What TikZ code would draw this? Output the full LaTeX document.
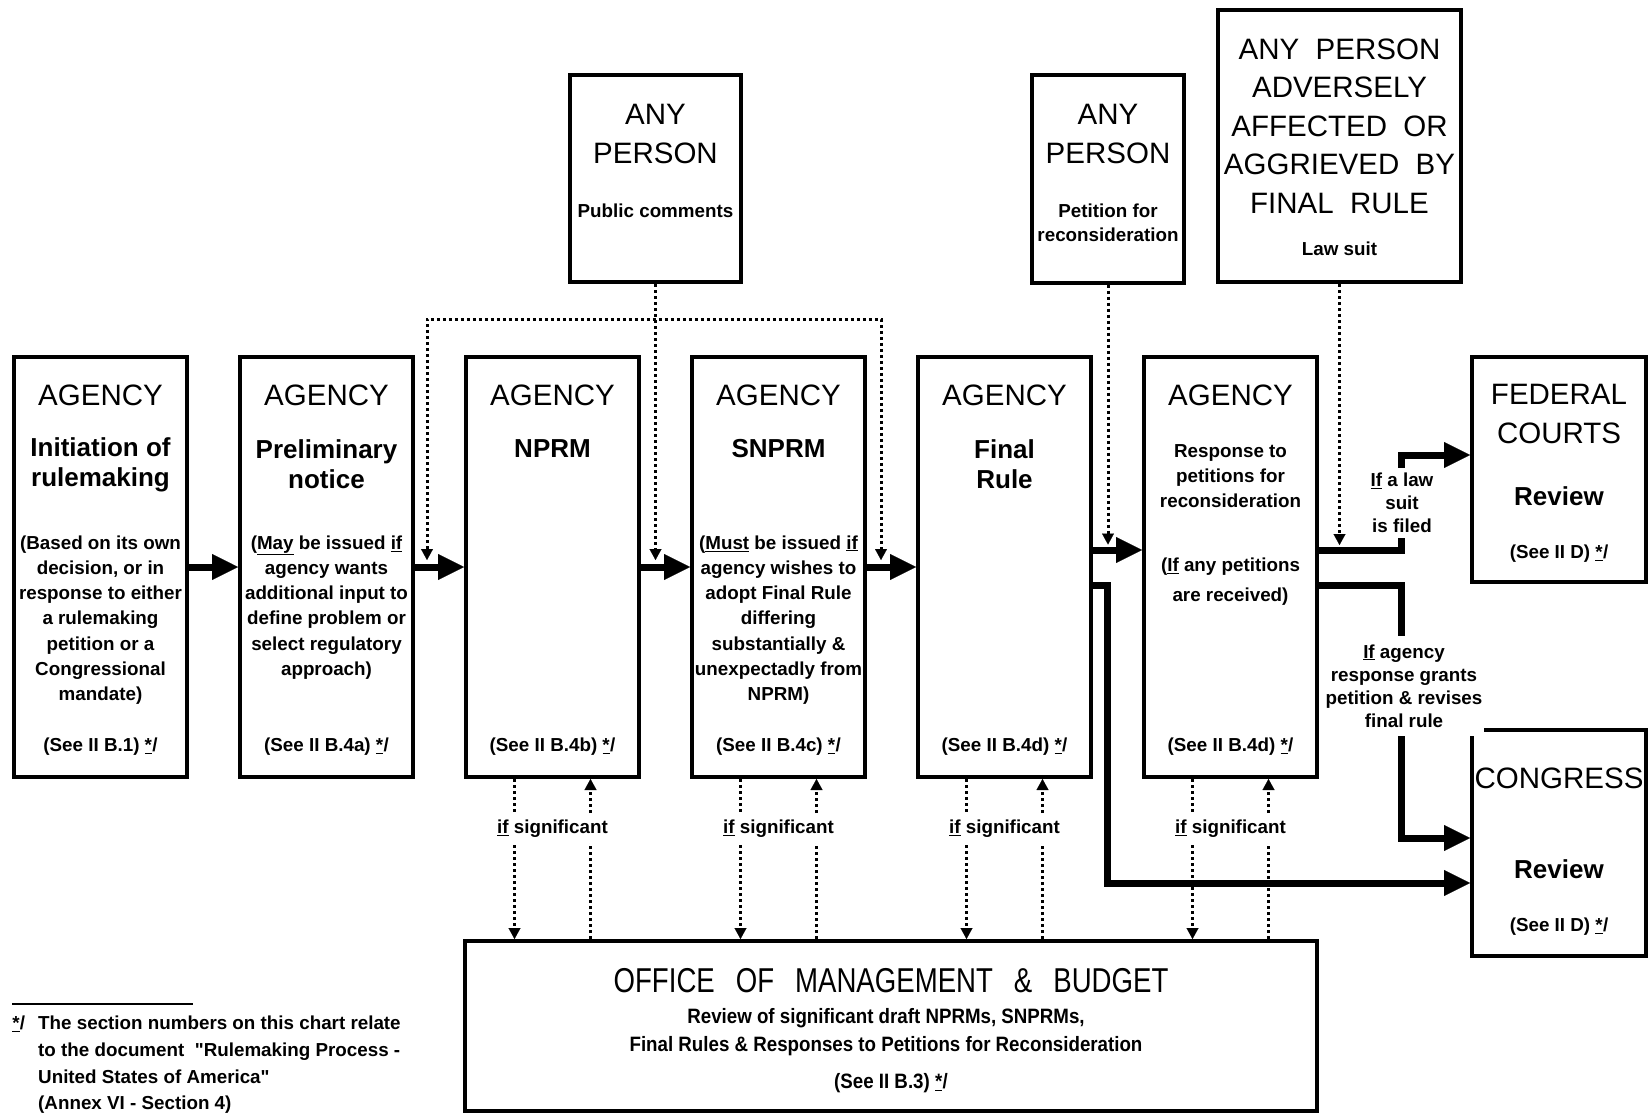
\documentclass[tikz,border=0pt]{standalone}
\usepackage{fontspec}
\setmainfont{Liberation Sans}
\newfontfamily\titlefont[FakeStretch=0.8]{Liberation Sans}
\newfontfamily\ombfont[FakeStretch=0.9]{Liberation Sans}
\newfontfamily\fnfont[Ligatures=TeXOff]{Liberation Sans}
\usetikzlibrary{arrows.meta,calc}
\newcommand{\fnm}{\underline{*}\kern0.3pt/}
\begin{document}
\begin{tikzpicture}[x=1pt,y=-1pt,
  abox/.style={draw, line width=4pt, inner sep=0pt},
  hd/.style={font=\fontsize{29.5}{38.5}\selectfont, align=center, inner sep=0pt},
  sub/.style={font=\bfseries\fontsize{26}{30}\selectfont, align=center, inner sep=0pt},
  body/.style={font=\bfseries\fontsize{18.8}{25.2}\selectfont, align=center, inner sep=0pt},
  lbl/.style={font=\bfseries\fontsize{18.8}{23}\selectfont, align=center, fill=white, inner xsep=2pt, inner ysep=5pt},
  flow/.style={line width=7pt, -{Triangle[length=26pt,width=26pt,line width=0.1pt]}},
  dots/.style={line width=3pt, dash pattern=on 3pt off 3pt},
  dotarr/.style={dots, -{Triangle[length=11pt,width=12pt,line width=0.1pt]}},
  dotboth/.style={dots, {Triangle[length=11pt,width=12pt,line width=0.1pt]}-{Triangle[length=11pt,width=12pt,line width=0.1pt]}}
]
\fill[white] (0,0) rectangle (1648,1115);
\useasboundingbox (0,0) rectangle (1648,1115);

% ---------- agency boxes ----------
\node[abox, minimum width=173pt, minimum height=420pt] (b1) at (100.5,567) {};
\node[abox, minimum width=173pt, minimum height=420pt] (b2) at (326.5,567) {};
\node[abox, minimum width=173pt, minimum height=420pt] (b3) at (552.5,567) {};
\node[abox, minimum width=173pt, minimum height=420pt] (b4) at (778.5,567) {};
\node[abox, minimum width=173pt, minimum height=420pt] (b5) at (1004.5,567) {};
\node[abox, minimum width=173pt, minimum height=420pt] (b6) at (1230.5,567) {};

% top boxes
\node[abox, minimum width=171pt, minimum height=207pt] (ap1) at (655.5,178.5) {};
\node[abox, minimum width=152pt, minimum height=207pt] (ap2) at (1108,179) {};
\node[abox, minimum width=243pt, minimum height=272pt] (ap3) at (1339.5,146) {};

% right boxes
\node[abox, minimum width=174pt, minimum height=225pt] (fed) at (1559,469.5) {};
\node[abox, minimum width=174pt, minimum height=226pt] (cong) at (1559,843) {};

% OMB
\node[abox, minimum width=852pt, minimum height=170pt] (omb) at (891,1026) {};

% ---------- texts ----------
\node[hd] (b1h) at (100.5,395) {AGENCY};
\node[sub] (b1s) at (100.5,464.5) {Initiation of\\rulemaking};
\node[body] (b1t) at (100.5,620) {(Based on its own\\decision, or in\\response to either\\a rulemaking\\petition or a\\Congressional\\mandate)};
\node[body] (b1r) at (100.5,747) {(See II B.1) \fnm};

\node[hd] (b2h) at (326.5,395) {AGENCY};
\node[sub] (b2s) at (326.5,464.5) {Preliminary\\notice};
\node[body] (b2t) at (326.5,607.5) {(\underline{May} be issued \underline{if}\\agency wants\\additional input to\\define problem or\\select regulatory\\approach)};
\node[body] (b2r) at (326.5,747) {(See II B.4a) \fnm};

\node[hd] (b3h) at (552.5,395) {AGENCY};
\node[sub] (b3s) at (552.5,449) {NPRM};
\node[body] (b3r) at (552.5,747) {(See II B.4b) \fnm};

\node[hd] (b4h) at (778.5,395) {AGENCY};
\node[sub] (b4s) at (778.5,449) {SNPRM};
\node[body] (b4t) at (778.5,620) {(\underline{Must} be issued \underline{if}\\agency wishes to\\adopt Final Rule\\differing\\substantially \&\\unexpectadly from\\NPRM)};
\node[body] (b4r) at (778.5,747) {(See II B.4c) \fnm};

\node[hd] (b5h) at (1004.5,395) {AGENCY};
\node[sub] (b5s) at (1004.5,464.5) {Final\\Rule};
\node[body] (b5r) at (1004.5,747) {(See II B.4d) \fnm};

\node[hd] (b6h) at (1230.5,395) {AGENCY};
\node[body] (b6s) at (1230.5,476) {Response to\\petitions for\\reconsideration};
\node[body, font=\bfseries\fontsize{18.8}{30}\selectfont] (b6t) at (1230.5,582) {(\underline{If} any petitions\\are received)};
\node[body] (b6r) at (1230.5,747) {(See II B.4d) \fnm};

\node[hd, font=\fontsize{29.5}{39}\selectfont] (ap1h) at (655.5,133.5) {ANY\\PERSON};
\node[body] (ap1t) at (655.5,211) {Public comments};

\node[hd, font=\fontsize{29.5}{39}\selectfont] (ap2h) at (1108,133.5) {ANY\\PERSON};
\node[body, font=\bfseries\fontsize{18.8}{24}\selectfont] (ap2t) at (1108,223) {Petition for\\reconsideration};

\node[hd] (ap3h) at (1339.5,126) {ANY\ \ PERSON\\ADVERSELY\\AFFECTED\ \ OR\\AGGRIEVED\ \ BY\\FINAL\ \ RULE};
\node[body] (ap3t) at (1339.5,249) {Law suit};

\node[hd] (fedh) at (1559,414) {FEDERAL\\COURTS};
\node[sub] (feds) at (1559,496) {Review};
\node[body] (fedr) at (1559,554) {(See II D) \fnm};

\node[hd] (congh) at (1559,778) {CONGRESS};
\node[sub] (congs) at (1559,869) {Review};
\node[body] (congr) at (1559,927) {(See II D) \fnm};

\node[inner sep=0pt, font=\titlefont\fontsize{34.5}{38}\selectfont] (ombh) at (891,981)
  {OFFICE\hspace{21pt}OF\hspace{21pt}MANAGEMENT\hspace{21pt}\&\hspace{21pt}BUDGET};
\node[inner sep=0pt, align=center, font=\ombfont\bfseries\fontsize{20.8}{28}\selectfont] (ombt) at (886,1032)
  {Review of significant draft NPRMs, SNPRMs,\\Final Rules \& Responses to Petitions for Reconsideration};
\node[inner sep=0pt, font=\ombfont\bfseries\fontsize{20.8}{24}\selectfont] (ombr) at (891,1083) {(See II B.3) \fnm};

% ---------- main flow ----------
\draw[flow] (b1.east) -- (b2.west);
\draw[flow] (b2.east) -- (b3.west);
\draw[flow] (b3.east) -- (b4.west);
\draw[flow] (b4.east) -- (b5.west);
\draw[flow] ($(b5.east)+(0,-17)$) -- ($(b6.west)+(0,-17)$);

% ---------- outputs to courts / congress ----------
\coordinate (c1) at (1401,455);
\coordinate (c2) at (1401,838);
\coordinate (c3) at (1107,883);
\draw[flow] ($(b6.east)+(0,-17)$) -| (c1) -- (c1 -| fed.west);
\draw[flow] ($(b6.east)+(0,18)$) -| (c2) -- (c2 -| cong.west);
\draw[flow] ($(b5.east)+(0,18)$) -| (c3) -- (c3 -| cong.west);
\node[lbl] (l1) at (1402,503) {\underline{If} a law\\suit\\is filed};
\node[lbl, inner ysep=9pt] (l2) at (1404,686) {\underline{If} agency\\response grants\\petition \& revises\\final rule};

% ---------- public comments ----------
\coordinate (t1) at (427,560);
\coordinate (t3) at (881,560);
\coordinate (h) at (655,319);
\draw[dotarr] (ap1.south) -- (ap1.south |- t1);
\draw[dotboth] (t1) -- (t1 |- h) -- (t3 |- h) -- (t3);

% ---------- petitions / law suit ----------
\draw[dotarr] (ap2.south) -- ++(0,260);
\draw[dotarr] (ap3.south) -- ++(0,261);

% ---------- OMB review ----------
\foreach \b in {b3,b4,b5,b6}{
  \draw[dotarr] ($(\b.south)+(-38,0)$) -- ($(\b.south |- omb.north)+(-38,0)$);
  \draw[dotarr] ($(\b.south |- omb.north)+(38,0)$) -- ($(\b.south)+(38,0)$);
  \node[lbl] (sig\b) at ($(\b.south)+(0,50)$) {\underline{if} significant};
}

% ---------- footnote ----------
\draw[line width=2pt] (12,1004) -- (193,1004);
\node[anchor=west, align=left, inner sep=0pt, font=\fnfont\bfseries\fontsize{18.8}{26.7}\selectfont] (fn) at (38,1065)
  {\llap{\fnm\hspace{13pt}}The section numbers on this chart relate\\to the document\ \ "Rulemaking Process -\\United States of America"\\(Annex VI - Section 4)};
\end{tikzpicture}
\end{document}
